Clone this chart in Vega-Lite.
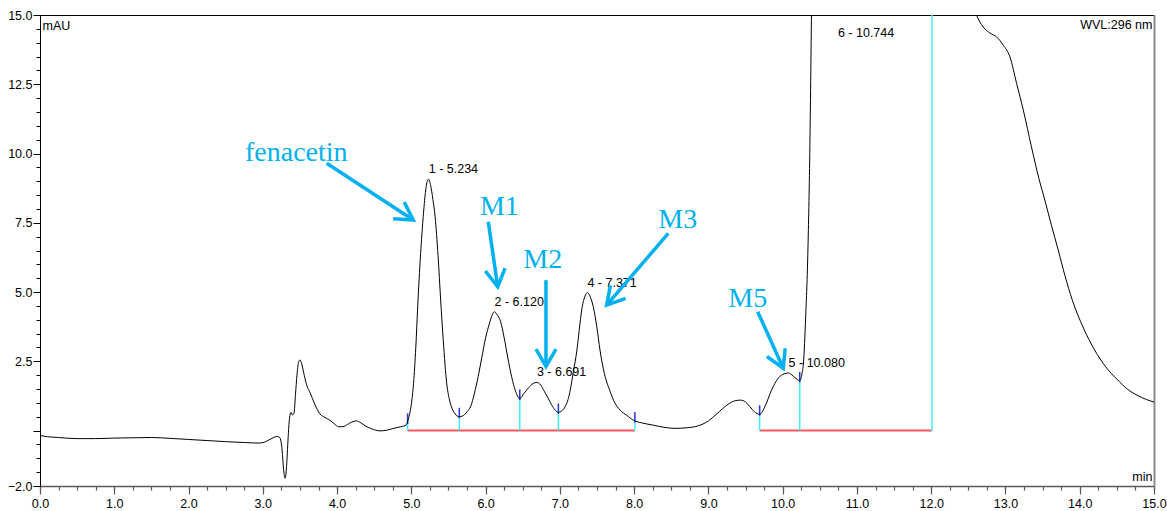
{
  "$schema": "https://vega.github.io/schema/vega-lite/v6.json",
  "width": 1114,
  "height": 471,
  "autosize": {"type": "none"},
  "padding": {"left": 40, "top": 15, "right": 13, "bottom": 25},
  "background": "white",
  "config": {
    "view": {"stroke": null},
    "axis": {
      "grid": false,
      "labelFont": "Liberation Sans",
      "titleFont": "Liberation Sans",
      "labelColor": "#000",
      "titleColor": "#000",
      "titleFontWeight": "normal",
      "labelFontSize": 12.5,
      "titleFontSize": 12.5
    }
  },
  "datasets": {
    "trace": [
      {"t": 0.00, "v": -0.18}, {"t": 0.10, "v": -0.22}, {"t": 0.25, "v": -0.25}, {"t": 0.50, "v": -0.29},
      {"t": 0.75, "v": -0.29}, {"t": 1.00, "v": -0.27}, {"t": 1.25, "v": -0.26}, {"t": 1.50, "v": -0.25},
      {"t": 1.75, "v": -0.28}, {"t": 2.00, "v": -0.32}, {"t": 2.25, "v": -0.36}, {"t": 2.50, "v": -0.40},
      {"t": 2.75, "v": -0.43}, {"t": 2.95, "v": -0.45}, {"t": 3.02, "v": -0.42}, {"t": 3.08, "v": -0.34},
      {"t": 3.14, "v": -0.26}, {"t": 3.19, "v": -0.21}, {"t": 3.23, "v": -0.26}, {"t": 3.26, "v": -0.70},
      {"t": 3.28, "v": -1.40}, {"t": 3.30, "v": -1.72}, {"t": 3.32, "v": -1.30}, {"t": 3.34, "v": -0.30},
      {"t": 3.36, "v": 0.45}, {"t": 3.38, "v": 0.66}, {"t": 3.40, "v": 0.56}, {"t": 3.42, "v": 0.62},
      {"t": 3.44, "v": 1.30}, {"t": 3.46, "v": 2.00}, {"t": 3.48, "v": 2.45}, {"t": 3.50, "v": 2.55},
      {"t": 3.52, "v": 2.45}, {"t": 3.55, "v": 2.10}, {"t": 3.59, "v": 1.65}, {"t": 3.64, "v": 1.35},
      {"t": 3.70, "v": 0.95}, {"t": 3.77, "v": 0.60}, {"t": 3.84, "v": 0.47}, {"t": 3.90, "v": 0.38},
      {"t": 3.96, "v": 0.25}, {"t": 4.02, "v": 0.14}, {"t": 4.08, "v": 0.14}, {"t": 4.14, "v": 0.22},
      {"t": 4.20, "v": 0.31}, {"t": 4.26, "v": 0.35}, {"t": 4.32, "v": 0.28}, {"t": 4.38, "v": 0.17},
      {"t": 4.46, "v": 0.07}, {"t": 4.58, "v": -0.01}, {"t": 4.68, "v": 0.02}, {"t": 4.76, "v": 0.08},
      {"t": 4.86, "v": 0.14}, {"t": 4.93, "v": 0.20}, {"t": 4.96, "v": 0.42}, {"t": 5.00, "v": 0.95},
      {"t": 5.03, "v": 1.71}, {"t": 5.06, "v": 3.00}, {"t": 5.09, "v": 4.71}, {"t": 5.13, "v": 6.60},
      {"t": 5.16, "v": 7.72}, {"t": 5.19, "v": 8.60}, {"t": 5.215, "v": 9.00}, {"t": 5.234, "v": 9.07},
      {"t": 5.26, "v": 8.85}, {"t": 5.29, "v": 8.35}, {"t": 5.32, "v": 7.72}, {"t": 5.36, "v": 6.30},
      {"t": 5.395, "v": 4.71}, {"t": 5.43, "v": 3.25}, {"t": 5.476, "v": 1.71}, {"t": 5.51, "v": 1.15},
      {"t": 5.54, "v": 0.86}, {"t": 5.59, "v": 0.60}, {"t": 5.646, "v": 0.50}, {"t": 5.70, "v": 0.54},
      {"t": 5.75, "v": 0.68}, {"t": 5.80, "v": 0.88}, {"t": 5.85, "v": 1.35}, {"t": 5.90, "v": 1.95},
      {"t": 5.95, "v": 2.65}, {"t": 6.00, "v": 3.35}, {"t": 6.05, "v": 3.85}, {"t": 6.09, "v": 4.18},
      {"t": 6.12, "v": 4.29}, {"t": 6.15, "v": 4.20}, {"t": 6.20, "v": 3.95}, {"t": 6.25, "v": 3.35},
      {"t": 6.30, "v": 2.62}, {"t": 6.35, "v": 1.95}, {"t": 6.40, "v": 1.45}, {"t": 6.46, "v": 1.16},
      {"t": 6.52, "v": 1.35}, {"t": 6.58, "v": 1.55}, {"t": 6.64, "v": 1.70}, {"t": 6.691, "v": 1.74},
      {"t": 6.74, "v": 1.65}, {"t": 6.79, "v": 1.42}, {"t": 6.84, "v": 1.18}, {"t": 6.90, "v": 0.88},
      {"t": 6.98, "v": 0.66}, {"t": 7.03, "v": 0.72}, {"t": 7.07, "v": 0.86}, {"t": 7.11, "v": 1.12},
      {"t": 7.14, "v": 1.46}, {"t": 7.18, "v": 2.10}, {"t": 7.23, "v": 2.91}, {"t": 7.27, "v": 3.85},
      {"t": 7.30, "v": 4.45}, {"t": 7.34, "v": 4.86}, {"t": 7.371, "v": 4.98}, {"t": 7.40, "v": 4.88},
      {"t": 7.45, "v": 4.47}, {"t": 7.50, "v": 3.70}, {"t": 7.54, "v": 2.91}, {"t": 7.60, "v": 2.05},
      {"t": 7.67, "v": 1.46}, {"t": 7.74, "v": 1.00}, {"t": 7.81, "v": 0.74}, {"t": 7.90, "v": 0.55},
      {"t": 8.00, "v": 0.36}, {"t": 8.10, "v": 0.28}, {"t": 8.25, "v": 0.20}, {"t": 8.40, "v": 0.12},
      {"t": 8.55, "v": 0.08}, {"t": 8.70, "v": 0.10}, {"t": 8.85, "v": 0.16}, {"t": 9.00, "v": 0.35},
      {"t": 9.12, "v": 0.62}, {"t": 9.25, "v": 0.92}, {"t": 9.35, "v": 1.07}, {"t": 9.43, "v": 1.10},
      {"t": 9.50, "v": 1.03}, {"t": 9.56, "v": 0.86}, {"t": 9.62, "v": 0.68}, {"t": 9.69, "v": 0.59},
      {"t": 9.76, "v": 0.86}, {"t": 9.85, "v": 1.46}, {"t": 9.94, "v": 1.89}, {"t": 10.02, "v": 2.05},
      {"t": 10.08, "v": 2.08}, {"t": 10.14, "v": 1.97}, {"t": 10.20, "v": 1.84}, {"t": 10.23, "v": 1.80},
      {"t": 10.26, "v": 2.05}, {"t": 10.28, "v": 2.44}, {"t": 10.31, "v": 4.11}, {"t": 10.34, "v": 6.52},
      {"t": 10.365, "v": 10.0}, {"t": 10.39, "v": 15.5}, {"t": 10.42, "v": 22}, {"t": 10.50, "v": 35},
      {"t": 10.62, "v": 52}, {"t": 10.744, "v": 60}, {"t": 10.90, "v": 55}, {"t": 11.20, "v": 44},
      {"t": 11.60, "v": 33}, {"t": 12.00, "v": 24}, {"t": 12.30, "v": 18.6}, {"t": 12.50, "v": 16.0},
      {"t": 12.61, "v": 15.0}, {"t": 12.70, "v": 14.57}, {"t": 12.79, "v": 14.35}, {"t": 12.88, "v": 14.21},
      {"t": 12.97, "v": 13.91}, {"t": 13.06, "v": 13.49}, {"t": 13.15, "v": 12.53}, {"t": 13.24, "v": 11.57},
      {"t": 13.35, "v": 10.24}, {"t": 13.45, "v": 9.1}, {"t": 13.53, "v": 8.32}, {"t": 13.62, "v": 7.4},
      {"t": 13.71, "v": 6.52}, {"t": 13.80, "v": 5.6}, {"t": 13.90, "v": 4.71}, {"t": 14.05, "v": 3.7},
      {"t": 14.20, "v": 2.91}, {"t": 14.35, "v": 2.3}, {"t": 14.51, "v": 1.83}, {"t": 14.64, "v": 1.50},
      {"t": 14.77, "v": 1.28}, {"t": 14.90, "v": 1.12}, {"t": 15.00, "v": 1.03}
    ],
    "peaks": [
      {"peak": 1, "rt": 5.234, "height": 9.07},
      {"peak": 2, "rt": 6.120, "height": 4.29},
      {"peak": 3, "rt": 6.691, "height": 1.74},
      {"peak": 4, "rt": 7.371, "height": 4.98},
      {"peak": 5, "rt": 10.080, "height": 2.08},
      {"peak": 6, "rt": 10.744, "height": 60}
    ],
    "bounds": [
      {"t": 4.95, "v": 0.30}, {"t": 5.646, "v": 0.50}, {"t": 6.46, "v": 1.16}, {"t": 6.98, "v": 0.66},
      {"t": 8.01, "v": 0.35}, {"t": 9.69, "v": 0.59}, {"t": 10.23, "v": 1.80}, {"t": 12.01, "v": 24}
    ],
    "segments": [
      {"start": 4.95, "end": 8.01},
      {"start": 9.69, "end": 12.01}
    ],
    "callouts": [
      {"name": "fenacetin", "tx": 2.76, "tv": 9.74, "x1": 3.86, "v1": 9.65, "x2": 5.026, "v2": 7.60},
      {"name": "M1", "tx": 5.924, "tv": 7.78, "x1": 6.036, "v1": 7.54, "x2": 6.163, "v2": 5.19},
      {"name": "M2", "tx": 6.507, "tv": 5.86, "x1": 6.813, "v1": 5.43, "x2": 6.813, "v2": 2.31},
      {"name": "M3", "tx": 8.325, "tv": 7.30, "x1": 8.46, "v1": 7.12, "x2": 7.63, "v2": 4.53},
      {"name": "M5", "tx": 9.268, "tv": 4.47, "x1": 9.663, "v1": 4.29, "x2": 10.008, "v2": 2.25}
    ]
  },
  "layer": [
    {
      "data": {"name": "segments"},
      "mark": {"type": "rule", "color": "#f25a5a", "strokeWidth": 2},
      "encoding": {
        "x": {"field": "start", "type": "quantitative", "scale": {"domain": [0, 15], "nice": false, "zero": false}, "axis": null},
        "x2": {"field": "end"},
        "y": {"datum": 0, "type": "quantitative", "scale": {"domain": [-2, 15], "nice": false, "zero": false}, "axis": null}
      }
    },
    {
      "data": {"name": "bounds"},
      "mark": {"type": "rule", "color": "#3cf2fa", "strokeWidth": 1.5, "clip": true},
      "encoding": {
        "x": {
          "field": "t", "type": "quantitative",
          "scale": {"domain": [0, 15], "nice": false, "zero": false},
          "axis": {
            "orient": "bottom",
            "values": [0, 0.25, 0.5, 0.75, 1, 1.25, 1.5, 1.75, 2, 2.25, 2.5, 2.75, 3, 3.25, 3.5, 3.75, 4, 4.25, 4.5, 4.75, 5, 5.25, 5.5, 5.75, 6, 6.25, 6.5, 6.75, 7, 7.25, 7.5, 7.75, 8, 8.25, 8.5, 8.75, 9, 9.25, 9.5, 9.75, 10, 10.25, 10.5, 10.75, 11, 11.25, 11.5, 11.75, 12, 12.25, 12.5, 12.75, 13, 13.25, 13.5, 13.75, 14, 14.25, 14.5, 14.75, 15],
            "tickSize": 4, "tickColor": "#5a5a5a", "tickWidth": 1.2,
            "labels": false, "domain": false, "title": null
          }
        },
        "y": {
          "field": "v", "type": "quantitative",
          "scale": {"domain": [-2, 15], "nice": false, "zero": false},
          "axis": {
            "orient": "left",
            "values": [-2, -1.5, -1, -0.5, 0, 0.5, 1, 1.5, 2, 2.5, 3, 3.5, 4, 4.5, 5, 5.5, 6, 6.5, 7, 7.5, 8, 8.5, 9, 9.5, 10, 10.5, 11, 11.5, 12, 12.5, 13, 13.5, 14, 14.5, 15],
            "tickSize": 4, "tickColor": "#000",
            "labels": false, "domain": false, "title": null
          }
        },
        "y2": {"datum": 0}
      }
    },
    {
      "data": {"name": "bounds"},
      "mark": {"type": "point", "shape": "M0,0.3L0,-1.7", "size": 110, "filled": false, "color": "#1f35e6", "strokeWidth": 1.5, "opacity": 1, "clip": true},
      "encoding": {
        "x": {
          "field": "t", "type": "quantitative",
          "scale": {"domain": [0, 15], "nice": false, "zero": false},
          "axis": {
            "orient": "top", "ticks": false, "labels": false,
            "domainColor": "#000", "domainWidth": 1,
            "title": "WVL:296 nm", "titleX": 1112, "titleY": 9,
            "titleAlign": "right", "titleBaseline": "middle"
          }
        },
        "y": {
          "field": "v", "type": "quantitative",
          "scale": {"domain": [-2, 15], "nice": false, "zero": false},
          "axis": {
            "orient": "right", "ticks": false, "labels": false,
            "domainColor": "#8c8c8c", "domainWidth": 2, "title": null
          }
        }
      }
    },
    {
      "data": {"name": "trace"},
      "mark": {"type": "line", "color": "#000", "strokeWidth": 1, "interpolate": "monotone", "clip": true},
      "encoding": {
        "x": {
          "field": "t", "type": "quantitative",
          "scale": {"domain": [0, 15], "nice": false, "zero": false},
          "axis": {
            "orient": "bottom",
            "values": [0, 1, 2, 3, 4, 5, 6, 7, 8, 9, 10, 11, 12, 13, 14, 15],
            "format": ".1f",
            "tickSize": 8, "tickColor": "#5a5a5a", "tickWidth": 1.2,
            "domainColor": "#5a5a5a", "domainWidth": 1.5,
            "labelPadding": 3, "labelFlush": false, "labelOverlap": false,
            "title": "min", "titleX": 1112, "titleY": -10,
            "titleAlign": "right", "titleBaseline": "middle"
          }
        },
        "y": {
          "field": "v", "type": "quantitative",
          "scale": {"domain": [-2, 15], "nice": false, "zero": false},
          "axis": {
            "orient": "left",
            "values": [-2, 0, 2.5, 5, 7.5, 10, 12.5, 15],
            "labelExpr": "datum.value === 0 ? '' : format(datum.value, '.1f')",
            "tickSize": 7, "tickColor": "#000", "domainColor": "#000",
            "labelPadding": 1, "labelFlush": false, "labelOverlap": false,
            "title": "mAU", "titleAngle": 0, "titleX": 2, "titleY": 10,
            "titleAlign": "left", "titleBaseline": "middle"
          }
        }
      }
    },
    {
      "data": {"name": "peaks"},
      "transform": [
        {"calculate": "datum.peak + ' - ' + format(datum.rt, '.3f')", "as": "label"},
        {"calculate": "min(datum.height, 14)", "as": "labelY"}
      ],
      "mark": {"type": "text", "align": "left", "baseline": "middle", "dy": -10, "font": "Liberation Sans", "fontSize": 12.5, "color": "#000"},
      "encoding": {
        "x": {"field": "rt", "type": "quantitative", "scale": {"domain": [0, 15], "nice": false, "zero": false}, "axis": null},
        "y": {"field": "labelY", "type": "quantitative", "scale": {"domain": [-2, 15], "nice": false, "zero": false}, "axis": null},
        "text": {"field": "label"}
      }
    },
    {
      "data": {"name": "callouts"},
      "mark": {"type": "rule", "color": "#00B0F0", "strokeWidth": 3.5},
      "encoding": {
        "x": {"field": "x1", "type": "quantitative", "scale": {"domain": [0, 15], "nice": false, "zero": false}, "axis": null},
        "y": {"field": "v1", "type": "quantitative", "scale": {"domain": [-2, 15], "nice": false, "zero": false}, "axis": null},
        "x2": {"field": "x2"},
        "y2": {"field": "v2"}
      }
    },
    {
      "data": {"name": "callouts"},
      "transform": [
        {"calculate": "atan2((datum.x2 - datum.x1) * 74.27, (datum.v2 - datum.v1) * 27.71) * 180 / PI", "as": "heading"}
      ],
      "mark": {"type": "point", "shape": "M-0.5,0.87L0,0L0.5,0.87", "size": 1600, "filled": false, "color": "#00B0F0", "strokeWidth": 3.5, "opacity": 1, "strokeJoin": "miter"},
      "encoding": {
        "x": {"field": "x2", "type": "quantitative", "scale": {"domain": [0, 15], "nice": false, "zero": false}, "axis": null},
        "y": {"field": "v2", "type": "quantitative", "scale": {"domain": [-2, 15], "nice": false, "zero": false}, "axis": null},
        "angle": {"field": "heading", "type": "quantitative", "scale": null}
      }
    },
    {
      "data": {"name": "callouts"},
      "mark": {"type": "text", "align": "left", "baseline": "alphabetic", "font": "Liberation Serif", "fontSize": 28, "color": "#00B0F0"},
      "encoding": {
        "x": {"field": "tx", "type": "quantitative", "scale": {"domain": [0, 15], "nice": false, "zero": false}, "axis": null},
        "y": {"field": "tv", "type": "quantitative", "scale": {"domain": [-2, 15], "nice": false, "zero": false}, "axis": null},
        "text": {"field": "name"}
      }
    }
  ],
  "resolve": {"axis": {"x": "independent", "y": "independent"}}
}
